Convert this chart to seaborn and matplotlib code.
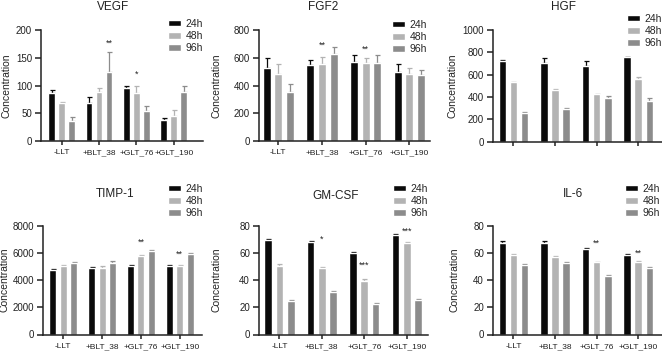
import numpy as np
import pandas as pd
import matplotlib
matplotlib.use("Agg")
import matplotlib.pyplot as plt
import seaborn as sns

# ---------------- data ----------------
groups = ["-LLT", "+BLT_38", "+GLT_76", "+GLT_190"]
times = ["24h", "48h", "96h"]

vegf_24 = [86.7, 69.3, 95.8, 37.3]
vegf_48 = [68.7, 88.6, 87.3, 44.6]
vegf_96 = [35.5, 124.0, 53.6, 88.6]
vegf_err_24 = [5.0, 10.7, 4.2, 3.7]
vegf_err_48 = [1.3, 6.0, 11.5, 12.0]
vegf_err_96 = [7.3, 36.0, 9.1, 10.8]

fgf2_24 = [524, 548, 571, 500]
fgf2_48 = [486, 557, 560, 486]
fgf2_96 = [352, 629, 562, 474]
fgf2_err_24 = [76, 33, 46, 57]
fgf2_err_48 = [66, 50, 35, 38]
fgf2_err_96 = [58, 47, 59, 36]

hgf_24 = [725, 701, 678, 755]
hgf_48 = [531, 463, 424, 561]
hgf_96 = [254, 290, 391, 367]
hgf_err_24 = [9, 51, 47, 0]
hgf_err_48 = [6, 6, 6, 15]
hgf_err_96 = [9, 6, 15, 24]

timp_24 = [4732, 4878, 5049, 5024]
timp_48 = [5024, 4902, 5732, 5024]
timp_96 = [5244, 5268, 6146, 5902]
timp_err_24 = [97, 98, 73, 49]
timp_err_48 = [49, 98, 73, 49]
timp_err_96 = [73, 147, 49, 49]

gm_24 = [69.5, 67.8, 60.0, 72.9]
gm_48 = [50.5, 48.8, 39.5, 67.3]
gm_96 = [24.9, 31.5, 22.4, 25.6]
gm_err_24 = [0.7, 0.7, 0.7, 0.8]
gm_err_48 = [1.0, 0.5, 1.0, 0.7]
gm_err_96 = [0.5, 0.7, 0.8, 0.5]

il6_24 = [67.1, 67.1, 62.9, 58.0]
il6_48 = [58.5, 56.8, 52.9, 52.9]
il6_96 = [51.2, 52.2, 43.2, 48.5]
il6_err_24 = [1.2, 1.2, 0.8, 0.8]
il6_err_48 = [0.5, 0.8, 0.5, 1.0]
il6_err_96 = [0.8, 1.0, 0.5, 0.8]

# significance marks: (group index, time index, y, text)
vegf_stars = [(1, 2, 177, "**"), (2, 1, 121, "*")]
fgf2_stars = [(1, 1, 690, "**"), (2, 1, 660, "**")]
hgf_stars = []
timp_stars = [(2, 1, 6780, "**"), (3, 1, 5927, "**")]
gm_stars = [(1, 1, 70, "*"), (2, 1, 50.5, "***"), (3, 1, 75.6, "***")]
il6_stars = [(2, 1, 67, "**"), (3, 1, 59.8, "**")]

titles = ["VEGF", "FGF2", "HGF", "TIMP-1", "GM-CSF", "IL-6"]
yticks_list = [
    [0, 50, 100, 150, 200],
    [0, 200, 400, 600, 800],
    [0, 200, 400, 600, 800, 1000],
    [0, 2000, 4000, 6000, 8000],
    [0, 20, 40, 60, 80],
    [0, 20, 40, 60, 80],
]

# ---------------- style ----------------
sns.set_style("ticks")
plt.rcParams["font.family"] = ["Liberation Sans", "DejaVu Sans"]
plt.rcParams["axes.linewidth"] = 1.1
plt.rcParams["xtick.major.width"] = 1.1
plt.rcParams["ytick.major.width"] = 1.1
plt.rcParams["xtick.major.size"] = 3
plt.rcParams["ytick.major.size"] = 4

palette = {"24h": "#0a0a0a", "48h": "#b3b3b3", "96h": "#8c8c8c"}

W, H = 662, 356
fig = plt.figure(figsize=(W / 100, H / 100), dpi=100)

panels = [
    dict(means=[vegf_24, vegf_48, vegf_96], errs=[vegf_err_24, vegf_err_48, vegf_err_96],
         stars=vegf_stars, px=(41, 203, 30, 141), xlim=(-0.55, 3.78), ydx=29,
         leg=(168, 19), tit=(113, 7), xlabels=True),
    dict(means=[fgf2_24, fgf2_48, fgf2_96], errs=[fgf2_err_24, fgf2_err_48, fgf2_err_96],
         stars=fgf2_stars, px=(259, 430, 30, 141), xlim=(-0.44, 3.47), ydx=37,
         leg=(392, 20), tit=(323, 7), xlabels=True),
    dict(means=[hgf_24, hgf_48, hgf_96], errs=[hgf_err_24, hgf_err_48, hgf_err_96],
         stars=hgf_stars, px=(493, 662, 30, 141.5), xlim=(-0.49, 3.57), ydx=35,
         leg=(627, 14), tit=(563, 7), xlabels=False),
    dict(means=[timp_24, timp_48, timp_96], errs=[timp_err_24, timp_err_48, timp_err_96],
         stars=timp_stars, px=(43, 202, 225.5, 334.5), xlim=(-0.52, 3.57), ydx=33,
         leg=(168, 184), tit=(115, 194), xlabels=True),
    dict(means=[gm_24, gm_48, gm_96], errs=[gm_err_24, gm_err_48, gm_err_96],
         stars=gm_stars, px=(259, 428, 225.5, 334.5), xlim=(-0.48, 3.5), ydx=38,
         leg=(393, 184), tit=(336, 196), xlabels=True),
    dict(means=[il6_24, il6_48, il6_96], errs=[il6_err_24, il6_err_48, il6_err_96],
         stars=il6_stars, px=(493, 662, 225.5, 334.5), xlim=(-0.49, 3.57), ydx=33,
         leg=(625, 184), tit=(573, 194), xlabels=True),
]

for k, p in enumerate(panels):
    l, r, t, b = p["px"]
    ax = fig.add_axes([l / W, 1 - b / H, (r - l) / W, (b - t) / H])
    rows = []
    for ti, tm in enumerate(times):
        for gi, g in enumerate(groups):
            rows.append({"group": g, "time": tm, "value": p["means"][ti][gi]})
    df = pd.DataFrame(rows)
    sns.barplot(data=df, x="group", y="value", hue="time", order=groups,
                hue_order=times, palette=palette, errorbar=None, width=0.8,
                gap=0.32, saturation=1, ax=ax, legend=False, zorder=2)
    bars = list(ax.containers)
    # error bars (upper only)
    for ti, cont in enumerate(bars):
        xs = [bar.get_x() + bar.get_width() / 2 for bar in cont]
        ys = p["means"][ti]
        er = p["errs"][ti]
        ax.errorbar(xs, ys, yerr=[np.zeros(len(er)), er], fmt="none",
                    ecolor=palette[times[ti]], elinewidth=0.9, capsize=1.8,
                    capthick=0.9, zorder=1)
    # stars
    for gi, ti, yv, txt in p["stars"]:
        bar = bars[ti][gi]
        xc = bar.get_x() + bar.get_width() / 2
        ax.text(xc, yv, txt, ha="center", va="center", fontsize=6.5, color="#222222")
    yt = yticks_list[k]
    ax.set_ylim(0, yt[-1])
    ax.set_yticks(yt)
    ax.set_xlim(*p["xlim"])
    ax.set_xlabel("")
    ax.set_ylabel("Concentration", fontsize=7.5, color="#222222")
    ax.yaxis.set_label_coords(-p["ydx"] / (r - l), 0.5)
    ax.tick_params(axis="y", labelsize=7, colors="#222222", pad=2.5)
    ax.tick_params(axis="x", labelsize=6, colors="#222222", pad=3)
    if not p["xlabels"]:
        ax.set_xticklabels([])
    for s in ["top", "right"]:
        ax.spines[s].set_visible(False)
    for s in ["left", "bottom"]:
        ax.spines[s].set_color("#222222")
    ax.legend(handles=bars, labels=times, loc="upper left",
              bbox_to_anchor=(p["leg"][0] / W, 1 - p["leg"][1] / H),
              bbox_transform=fig.transFigure, frameon=False, fontsize=7.5,
              borderpad=0, borderaxespad=0, handlelength=1.25,
              handleheight=0.55, handletextpad=0.45, labelspacing=0.2)
    fig.text(p["tit"][0] / W, 1 - p["tit"][1] / H, titles[k], ha="center",
             va="center", fontsize=8.5, color="#222222")

fig.savefig("out.png", dpi=100)
